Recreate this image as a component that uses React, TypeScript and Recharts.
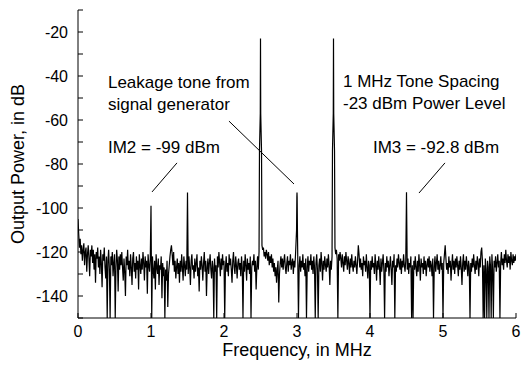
import { LineChart, Line, XAxis, YAxis, ReferenceLine, ReferenceDot } from "recharts";

const FONT = '"Liberation Sans", Arial, Helvetica, sans-serif';

// noise floor, one bin every 10 kHz from 0 to 6 MHz (dB), 20 bins per row
const noiseStepMHz = 0.01;
const noiseDb = [
  -105, -112, -118, -114, -121, -117, -124, -119, -116, -126, -120, -118, -129, -121, -117, -123, -131, -119, -122, -117,
  -125, -119, -128, -121, -134, -120, -123, -118, -127, -122, -130, -119, -125, -136, -121, -124, -118, -127, -132, -122,
  -150, -124, -119, -128, -150, -122, -126, -120, -131, -125, -121, -150, -127, -119, -124, -138, -122, -128, -121, -126,
  -120, -127, -133, -123, -129, -140, -122, -126, -119, -128, -124, -131, -121, -127, -135, -123, -120, -129, -125, -132,
  -122, -128, -124, -137, -121, -126, -130, -123, -128, -120, -125, -133, -122, -127, -124, -139, -121, -126, -129, -123,
  -125, -150, -122, -128, -132, -124, -137, -121, -127, -130, -123, -135, -126, -128, -122, -141, -125, -131, -127, -150,
  -128, -133, -124, -145, -130, -126, -122, -119, -117, -121, -126, -120, -129, -124, -132, -127, -123, -130, -125, -134,
  -124, -129, -121, -127, -133, -122, -126, -131, -124, -128, -125, -130, -122, -127, -135, -124, -121, -128, -126, -132,
  -123, -129, -125, -121, -131, -127, -138, -124, -128, -122, -126, -133, -125, -120, -129, -124, -140, -127, -123, -130,
  -125, -121, -128, -132, -124, -127, -150, -123, -129, -126, -150, -122, -127, -120, -125, -131, -123, -128, -121, -126,
  -124, -150, -127, -122, -129, -125, -131, -121, -126, -123, -128, -134, -124, -120, -127, -130, -122, -126, -132, -125,
  -123, -128, -125, -131, -122, -127, -150, -124, -129, -121, -126, -133, -123, -128, -125, -130, -122, -150, -127, -124,
  -126, -121, -129, -124, -137, -127, -122, -128, -120, -125, -124, -122, -117, -119, -118, -122, -120, -123, -119, -121,
  -124, -120, -126, -122, -125, -121, -127, -123, -129, -125, -131, -127, -134, -128, -124, -143, -130, -125, -122, -127,
  -123, -128, -124, -121, -127, -130, -125, -122, -129, -124, -126, -121, -128, -125, -123, -130, -124, -127, -121, -125,
  -124, -125, -150, -126, -122, -129, -124, -127, -121, -128, -125, -131, -123, -150, -127, -122, -129, -124, -126, -121,
  -128, -124, -130, -122, -127, -150, -125, -121, -128, -150, -126, -123, -129, -120, -125, -133, -124, -128, -122, -126,
  -129, -123, -127, -121, -126, -135, -124, -128, -122, -125, -124, -122, -118, -121, -119, -123, -150, -121, -124, -120,
  -123, -127, -121, -125, -129, -122, -126, -120, -124, -128, -122, -125, -130, -123, -127, -121, -126, -129, -124, -127,
  -122, -126, -130, -124, -117, -121, -127, -123, -128, -125, -131, -122, -126, -124, -129, -121, -127, -132, -124, -126,
  -150, -124, -128, -122, -127, -125, -130, -121, -126, -133, -124, -128, -122, -127, -135, -123, -129, -125, -121, -128,
  -150, -125, -129, -122, -127, -124, -131, -126, -122, -128, -135, -124, -127, -121, -150, -126, -129, -123, -127, -121,
  -125, -128, -123, -130, -124, -127, -121, -126, -129, -124, -126, -128, -123, -130, -125, -127, -122, -150, -126, -150,
  -124, -128, -122, -127, -131, -124, -129, -121, -126, -133, -123, -127, -125, -130, -122, -128, -124, -131, -126, -123,
  -127, -122, -129, -124, -126, -131, -123, -150, -127, -122, -129, -125, -121, -128, -124, -130, -126, -122, -128, -125,
  -150, -125, -121, -117, -123, -128, -125, -130, -122, -127, -124, -133, -126, -121, -128, -124, -130, -123, -127, -122,
  -126, -131, -124, -128, -122, -127, -135, -125, -121, -129, -124, -128, -122, -126, -131, -124, -127, -150, -125, -129,
  -123, -127, -121, -126, -130, -124, -128, -122, -125, -131, -123, -127, -120, -118, -124, -150, -126, -150, -123, -128,
  -150, -124, -127, -150, -122, -126, -150, -121, -128, -150, -124, -127, -122, -129, -125, -121, -127, -124, -150, -125,
  -120, -126, -123, -128, -121, -125, -119, -124, -127, -121, -125, -122, -128, -120, -124, -126, -121, -125, -122, -124,
  -121,
];

// tones and spurs (MHz, dB)
const toneFreqs = [
  1.0,
  1.5,
  2.486, 2.497, 2.5, 2.503, 2.514,
  2.994, 2.998, 3.0, 3.002, 3.006,
  3.486, 3.497, 3.5, 3.503, 3.514,
  4.5,
];
const toneDb = [
  -99,
  -93,
  -74, -57, -23, -57, -74,
  -110, -95, -93, -95, -110,
  -74, -57, -23, -57, -74,
  -92.8,
];

const xTicks = [0, 1, 2, 3, 4, 5, 6];
const yTicks = [-150, -140, -130, -120, -110, -100, -90, -80, -70, -60, -50, -40, -30, -20, -10];

const noteTexts = [
  "Leakage tone from",
  "signal generator",
  "IM2 = -99 dBm",
  "1 MHz Tone Spacing",
  "-23 dBm Power Level",
  "IM3 = -92.8 dBm",
];
const noteFreqs = [0.41, 0.41, 0.41, 3.63, 3.63, 4.04];
const noteDb = [-45.5, -55.5, -75, -45, -55, -75];

const pointers = [
  [{ x: 1.014, y: -92.7 }, { x: 1.356, y: -79.5 }],
  [{ x: 2.068, y: -60.5 }, { x: 2.959, y: -89.1 }],
  [{ x: 4.671, y: -93.2 }, { x: 5.027, y: -79.5 }],
];

const noisePoints = noiseDb
  .map((db, i) => ({ freq: +(i * noiseStepMHz).toFixed(3), db }))
  .filter((p) => !toneFreqs.some((f) => Math.abs(f - p.freq) < 0.005));
const tonePoints = toneFreqs.map((freq, i) => ({ freq, db: toneDb[i] }));
const spectrum = [...noisePoints, ...tonePoints].sort((a, b) => a.freq - b.freq);

const noteLabel = (value: string) => (props: any) => (
  <text x={props.viewBox.x} y={props.viewBox.y} fontSize={17} fontFamily={FONT} fill="#000">
    {value}
  </text>
);

const yTitle = (props: any) => {
  const vb = props.viewBox;
  const cx = vb.x + 18;
  const cy = vb.y + vb.height / 2;
  return (
    <text
      x={cx}
      y={cy}
      transform={`rotate(-90, ${cx}, ${cy})`}
      textAnchor="middle"
      dy="0.36em"
      fontSize={18}
      fontFamily={FONT}
      fill="#000"
    >
      Output Power, in dB
    </text>
  );
};

const tickStyle = { fill: "#000", fontSize: 16, fontFamily: FONT };

export default function App() {
  return (
    <div style={{ position: "absolute", left: 0, top: 0, width: 523, height: 365, background: "#fff" }}>
      <LineChart width={523} height={365} data={spectrum} margin={{ top: 10, right: 7, bottom: 0, left: 0 }}>
        <XAxis
          dataKey="freq"
          type="number"
          domain={[0, 6]}
          ticks={xTicks}
          interval={0}
          allowDataOverflow
          height={47}
          tickSize={-5}
          tickMargin={13}
          stroke="#000"
          tick={tickStyle}
          label={{
            value: "Frequency, in MHz",
            position: "insideBottom",
            offset: 9,
            fill: "#000",
            fontSize: 18,
            fontFamily: FONT,
          }}
        />
        <XAxis
          xAxisId="top"
          orientation="top"
          mirror
          type="number"
          domain={[0, 6]}
          ticks={xTicks}
          interval={0}
          height={0}
          tickSize={5}
          tick={false}
          stroke="#000"
        />
        <YAxis
          type="number"
          domain={[-150, -10]}
          ticks={yTicks}
          interval={0}
          allowDataOverflow
          width={78}
          tickSize={-5}
          tickMargin={15}
          stroke="#000"
          tick={tickStyle}
          tickFormatter={(v: number) => (v % 20 === 0 ? String(v) : "")}
          label={yTitle}
        />
        <YAxis
          yAxisId="right"
          orientation="right"
          mirror
          type="number"
          domain={[-150, -10]}
          ticks={yTicks}
          interval={0}
          width={0}
          tickSize={5}
          tick={false}
          stroke="#000"
        />
        <Line
          dataKey="db"
          type="linear"
          stroke="#000"
          strokeWidth={1.2}
          dot={false}
          isAnimationActive={false}
        />
        {pointers.map((seg, i) => (
          <ReferenceLine key={`p${i}`} segment={seg} stroke="#000" strokeWidth={1} />
        ))}
        {noteTexts.map((t, i) => (
          <ReferenceDot
            key={`n${i}`}
            x={noteFreqs[i]}
            y={noteDb[i]}
            r={0}
            fill="none"
            stroke="none"
            label={noteLabel(t)}
          />
        ))}
      </LineChart>
    </div>
  );
}
